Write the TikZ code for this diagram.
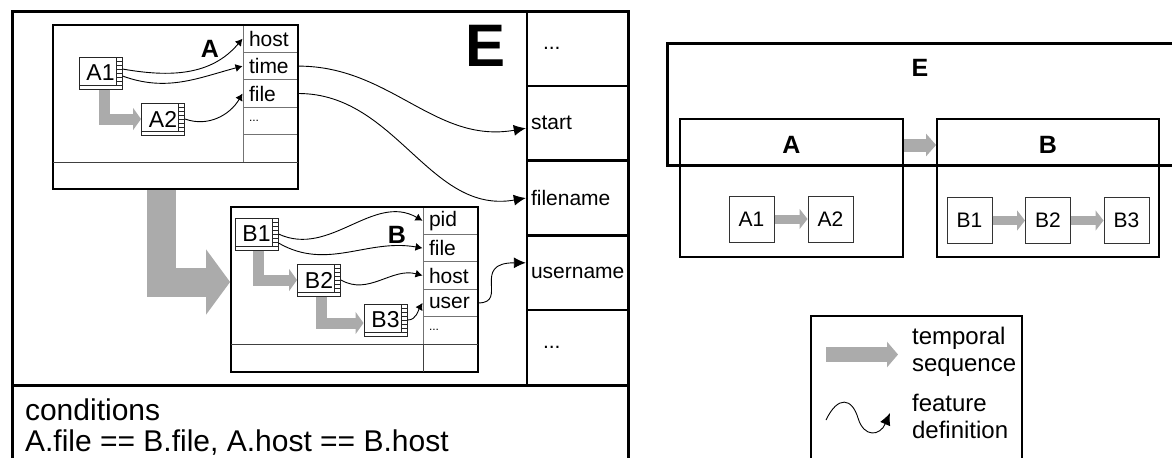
\documentclass[tikz,border=0pt]{standalone}
\usepackage{fontspec}
\setmainfont{Liberation Sans}
\usetikzlibrary{arrows.meta, positioning, calc}
\definecolor{seqgray}{gray}{0.67}
\newcommand{\fsize}[1]{\fontsize{#1}{#1}\selectfont}

\begin{document}
\begin{tikzpicture}[
  x=0.5pt, y=-0.5pt,
  font=\fsize{10.5},
  efr/.style={draw=black, line width=1.5pt},
  pbox/.style={draw=black, line width=0.9pt, inner sep=0pt},
  strip/.style={draw=black!75, line width=0.5pt},
  fld/.style={draw=black!55, line width=0.5pt, minimum height=13.7pt, text width=21.5pt,
              inner xsep=3pt, inner ysep=0pt, align=left},
  efld/.style={draw=black, line width=1.2pt, minimum height=37.4pt, text width=46.5pt,
               inner xsep=2pt, inner ysep=0pt, align=left},
  evbox/.style={draw=black!85, line width=0.5pt, fill=white, minimum width=21.5pt,
                minimum height=16pt, inner sep=0pt, font=\fsize{11.5},
    path picture={
      \draw[line width=0.4pt] ([xshift=-3pt]path picture bounding box.north east)
        -- ([xshift=-3pt,yshift=2pt]path picture bounding box.south east);
      \draw[line width=0.4pt] ([yshift=2pt]path picture bounding box.south west)
        -- ([yshift=2pt]path picture bounding box.south east);
      \foreach \k in {1,...,6}
        \draw[line width=0.3pt] ([xshift=-3pt,yshift={-2pt*\k}]path picture bounding box.north east) -- ++(3pt,0);
    }},
  rbox/.style={draw=black!80, line width=0.5pt, fill=white, minimum width=22.5pt,
               minimum height=23pt, inner sep=0pt},
  lab/.style={font=\fsize{12.5}\bfseries, inner sep=0pt},
  feat/.style={draw=black, line width=0.45pt, -{Latex[length=3.5pt,width=4pt]}},
  featbig/.style={draw=black, line width=0.45pt, -{Latex[length=6pt,width=5.5pt]}},
  seq/.style={draw=seqgray, line width=5.5pt, -{Triangle[length=4pt,width=11pt]}},
  bigseq/.style={draw=seqgray, line width=14.5pt, -{Triangle[length=12pt,width=32pt]}},
  rseq/.style={draw=seqgray, line width=4.5pt, -{Triangle[length=4pt,width=10pt]}},
  rseqbig/.style={draw=seqgray, line width=6.5pt, -{Triangle[length=5pt,width=11pt]}},
  lseq/.style={draw=seqgray, line width=7.5pt, -{Triangle[length=5.5pt,width=12.5pt]}}
]
\useasboundingbox (0,0) rectangle (1172,457);

%--------------------------------------------------------------
% Evento composto E (a sinistra)
%--------------------------------------------------------------
\draw[efr] (12,11) rectangle (628,475);
\draw[efr] (12,385) -- (628,385);
\node[font=\fsize{30}\bfseries, inner sep=0pt] (Elab) at (486,46) {E};

\foreach \n/\t [count=\i] in {top/{\hspace*{6pt}...}, start/start, fname/filename,
                              usern/username, bot/{\hspace*{6pt}...}}{
  \node[efld] (E\n) at (577.5,{11+74.8*(\i-0.5)}) {\t};
}

\node[anchor=north west, align=left, font=\fontsize{15}{15.5}\selectfont] (cond) at (18,392)
  {conditions\\ A.file == B.file, A.host == B.host};

%--------------------------------------------------------------
% Evento A
%--------------------------------------------------------------
\foreach \n/\t [count=\i] in {host/host, time/time, file/file, dots/{\fsize{6}...}, emp/{}}{
  \node[fld] (A\n) at (270.5,{25+27.4*(\i-0.5)}) {\t};
}
\node[pbox, minimum width=122.5pt, minimum height=82pt] (Abox) at (175.5,107) {};
\draw[strip] (53,162) -- (298,162);

\node[evbox] (A1) at (100.5,73) {A1};
\node[evbox] (A2) at (163,119) {A2};
\node[lab] (Alab) at (210,49) {A};

\draw[seq] ([xshift=2pt]A1.south) |- (A2.west);
\draw[feat] ([yshift=2pt]A1.east) to[out=-10,in=230] (Ahost.west);
\draw[feat] ([yshift=-1.5pt]A1.east) to[out=-20,in=195] (Atime.west);
\draw[feat] (A2.east) to[out=-20,in=240] (Afile.west);

%--------------------------------------------------------------
% Evento B
%--------------------------------------------------------------
\foreach \n/\t [count=\i] in {pid/pid, file/file, host/host, user/user, dots/{\fsize{6}...}}{
  \node[fld] (B\n) at (450.5,{207+27.4*(\i-0.5)}) {\t};
}
\node[pbox, minimum width=123.5pt, minimum height=82.5pt] (Bbox) at (354.5,289.5) {};
\draw[strip] (231,344) -- (478,344);
\draw[strip] (423,344) -- (423,372);

\node[evbox] (B1) at (256.5,234) {B1};
\node[evbox] (B2) at (319,280) {B2};
\node[evbox] (B3) at (385.5,320) {B3};
\node[lab] (Blab) at (397,235) {B};

\draw[seq] ([xshift=1pt]B1.south) |- (B2.west);
\draw[seq] ([xshift=1pt]B2.south) |- ([yshift=-1.5pt]B3.west);
\draw[feat] (B1.east) to[out=-25,in=150] (Bpid.west);
\draw[feat] ([yshift=-4.5pt]B1.east) to[out=-30,in=170] (Bfile.west);
\draw[feat] (B2.east) to[out=-30,in=165] (Bhost.west);
\draw[feat] (B3.east) to[out=0,in=240] (Buser.west);

% sequenza temporale A -> B
\draw[bigseq] ([xshift=-7pt]Abox.south) |- ([yshift=3.75pt]Bbox.west);

% definizione delle feature di E
\draw[featbig] (Atime.east) to[out=0,in=190] ([yshift=-2.5pt]Estart.west);
\draw[featbig] (Afile.east) to[out=0,in=190] (Efname.west);
\draw[featbig] (Buser.east) .. controls +(30,0) and +(-55,0) .. ([yshift=5pt]Eusern.west);

%--------------------------------------------------------------
% Schema compatto (a destra)
%--------------------------------------------------------------
\draw[efr] (667,43) rectangle (1180,165);
\node[lab] (rElab) at (920,68) {E};

\node[pbox, minimum width=111.5pt, minimum height=69pt] (rA) at (791.5,188) {};
\node[pbox, minimum width=111pt, minimum height=69pt] (rB) at (1048,188) {};
\node[lab] (rAlab) at (791.5,145) {A};
\node[lab] (rBlab) at (1048,145) {B};
\draw[rseqbig] (rA.east |- rAlab) -- (rB.west |- rBlab);

\node[rbox] (rA1) at (751.5,219) {A1};
\node[rbox] (rA2) at (830.5,219) {A2};
\node[rbox] (rB1) at (969.5,220.5) {B1};
\node[rbox] (rB2) at (1048,220.5) {B2};
\node[rbox] (rB3) at (1126.5,220.5) {B3};
\draw[rseq] (rA1) -- (rA2);
\draw[rseq] (rB1) -- (rB2);
\draw[rseq] (rB2) -- (rB3);

%--------------------------------------------------------------
% Legenda
%--------------------------------------------------------------
\draw[line width=0.6pt] (811,316) rectangle (1022,475);
\coordinate (lgS) at (826,354.5);
\coordinate (lgE) at (898,354.5);
\draw[lseq] (lgS) -- (lgE);
\node[anchor=west, align=left, font=\fontsize{12}{13.5}\selectfont] (lgT) at (905,352)
  {temporal\\ sequence};

\coordinate (sqS) at (826,420);
\coordinate (sqE) at (890,413);
\draw[featbig] (sqS) .. controls (838,395) and (852,398) .. (858,418)
  .. controls (864,438) and (880,436) .. (sqE);
\node[anchor=west, align=left, font=\fontsize{12}{13.5}\selectfont] (lgF) at (905,416)
  {feature\\ definition};

\end{tikzpicture}
\end{document}
